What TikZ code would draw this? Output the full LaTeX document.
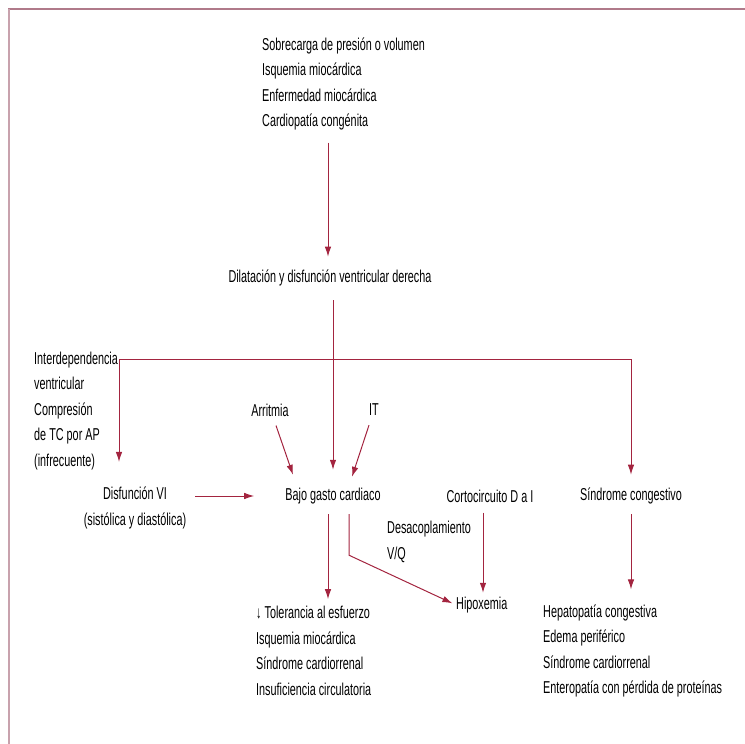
\documentclass[tikz,border=0pt]{standalone}
\usepackage{fontspec}
\setmainfont[FakeStretch=0.63]{Liberation Sans}
\usetikzlibrary{arrows.meta, positioning}
\definecolor{flecha}{HTML}{A3243F}
\definecolor{marco}{HTML}{B07A8A}

\begin{document}
\begin{tikzpicture}[x=1pt, y=-1pt,
	txt/.style={inner sep=0pt, font=\fontsize{17.2}{25.5}\selectfont},
	lin/.style={draw=flecha, line width=1pt},
	arr/.style={lin, -{Latex[length=10pt, width=6.5pt]}}]
	
	\useasboundingbox (0,0) rectangle (745,744);
	
	% Frame
	\draw[marco, line width=1.5pt] (8,9) -- (745,9);
	\draw[marco!70, line width=1.2pt] (9,9) -- (9,744);
	
	% Causes and right ventricle
	\node[txt, anchor=west, align=left] (causas) at (262,84)
	{Sobrecarga de presión o volumen\\Isquemia miocárdica\\Enfermedad miocárdica\\Cardiopatía congénita};
	\node[txt] (dilat) at (330,278) {Dilatación y disfunción ventricular derecha};
	
	% Middle row
	\node[txt, anchor=west, align=left] (interdep) at (34,411)
	{Interdependencia\\ventricular\\Compresión\\de TC por AP\\(infrecuente)};
	\node[txt, align=center] (disfvi) at (135,508) {Disfunción VI\\(sistólica y diastólica)};
	\node[txt] (arritmia) at (270,410) {Arritmia};
	\node[txt] (it) at (374,410) {IT};
	\node[txt] (bajo) at (333,496) {Bajo gasto cardiaco};
	\node[txt] (corto) at (490,496) {Cortocircuito D a I};
	\node[txt] (congest) at (631,496) {Síndrome congestivo};
	\node[txt, anchor=west, align=left] (desacop) at (387,542) {Desacoplamiento\\V/Q};
	
	% Consequences
	\node[txt, anchor=west] (hipox) at (456,605) {Hipoxemia};
	\node[txt, anchor=west, align=left] (consec) at (256,651)
	{↓ Tolerancia al esfuerzo\\Isquemia miocárdica\\Síndrome cardiorrenal\\Insuficiencia circulatoria};
	\node[txt, anchor=west, align=left] (hepat) at (543,651)
	{Hepatopatía congestiva\\Edema periférico\\Síndrome cardiorrenal\\Enteropatía con pérdida de proteínas};
	
	% Connectors
	\coordinate (ramaI) at (119,359);
	\coordinate (ramaD) at (631,359);
	\draw[arr, shorten <=12pt, shorten >=13pt] (causas.south -| 328,0) -- (dilat.north -| 328,0);
	\draw[arr, shorten <=14pt, shorten >=18pt] (dilat.south -| bajo) -- (bajo.north);
	\draw[lin] (ramaI) -- (ramaD);
	\draw[arr, shorten >=25pt] (ramaI) -- (ramaI |- disfvi.north);
	\draw[arr, shorten >=13pt] (ramaD) -- (congest.north);
	\draw[arr, shorten >=31pt] ([xshift=9pt]disfvi.east |- bajo.west) -- (bajo.west);
	\draw[arr] ([xshift=6pt, yshift=-9pt]arritmia.south) -- ([xshift=-40pt, yshift=13pt]bajo.north);
	\draw[arr] ([xshift=-5pt, yshift=-9pt]it.south) -- ([xshift=19pt, yshift=11pt]bajo.north);
	\draw[arr, shorten >=7pt] ([xshift=-5pt, yshift=-10pt]bajo.south) -- ([xshift=-5pt]bajo.south |- consec.north);
	\draw[arr, shorten >=4pt] ([xshift=16pt, yshift=-10pt]bajo.south) -- ++(0,41) -- (hipox.west);
	\draw[arr, shorten >=4pt] ([xshift=-7pt, yshift=-10pt]corto.south) -- ([xshift=-7pt]corto.south |- hipox.north);
	\draw[arr, shorten <=10pt, shorten >=15pt] (congest.south) -- (congest.south |- hepat.north);
	
\end{tikzpicture}
\end{document}
